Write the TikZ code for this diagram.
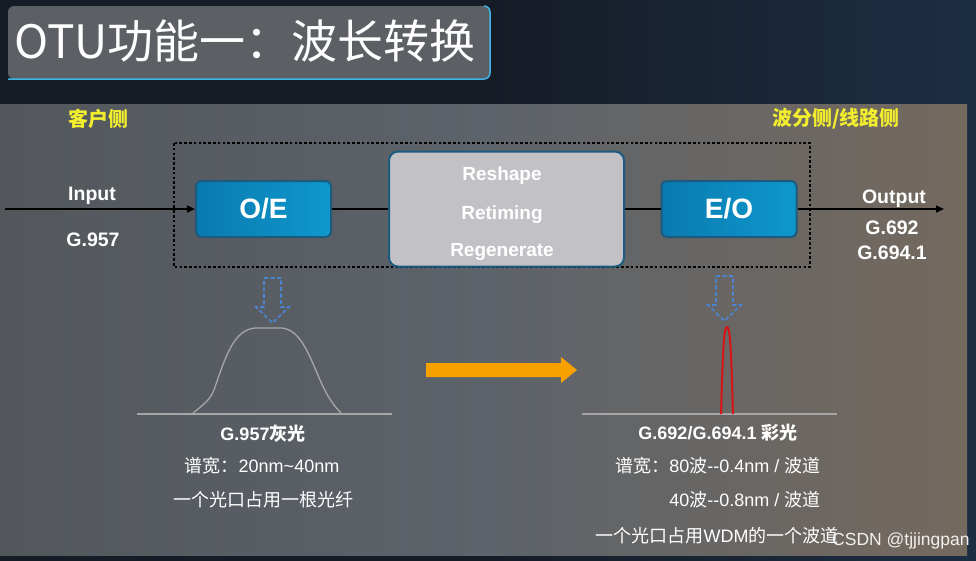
\documentclass[tikz,border=0pt]{standalone}
\usepackage{fontspec}
\setmainfont{Liberation Sans}
\newfontfamily\cjk{Noto Sans CJK SC}
\usetikzlibrary{arrows.meta}
\definecolor{bgdark}{HTML}{161C26}
\definecolor{bgblue}{HTML}{1C2E44}
\definecolor{panelL}{HTML}{53575C}
\definecolor{panelM}{HTML}{5D636A}
\definecolor{panelR}{HTML}{74695F}
\definecolor{titlefill}{HTML}{5C6065}
\definecolor{titleedge}{HTML}{3FB4E6}
\definecolor{blueA}{HTML}{0A7AB0}
\definecolor{blueB}{HTML}{0E98CC}
\definecolor{blueedge}{HTML}{1D5A80}
\definecolor{grayfill}{HTML}{C2C2C6}
\definecolor{hint}{HTML}{F2EE2E}
\definecolor{dashblue}{HTML}{4C84D4}
\definecolor{curvegray}{HTML}{A6A6A6}
\definecolor{peakred}{HTML}{D81414}
\definecolor{orangeA}{HTML}{F7A000}
\tikzset{
  bluebox/.style={draw=blueedge, line width=2pt, rounded corners=5pt,
    left color=blueA, right color=blueB, text=white,
    font=\bfseries\fontsize{28}{28}\selectfont,
    minimum width=135pt, minimum height=56pt, inner sep=0pt},
  regbox/.style={draw=blueedge, line width=2pt, rounded corners=9pt,
    fill=grayfill, minimum width=235pt, minimum height=115pt, inner sep=0pt},
  regtext/.style={text=white, font=\bfseries\fontsize{19}{19}\selectfont},
  iotext/.style={text=white, font=\bfseries\fontsize{19.5}{19.5}\selectfont},
  hinttext/.style={text=hint, font=\cjk\bfseries\fontsize{20}{20}\selectfont},
  captext/.style={text=white, font=\fontsize{18}{18}\selectfont},
  conn/.style={line width=1.5pt, draw=black},
  dasharrow/.style={draw=dashblue, line width=1.6pt, dash pattern=on 4pt off 2.5pt},
}
\begin{document}
\begin{tikzpicture}[x=1pt,y=-1pt]
\useasboundingbox (0,0) rectangle (976,560);
% background
\shade[left color=bgdark, right color=bgblue, middle color=bgdark] (0,0) rectangle (976,560);
\shade[left color=panelL, right color=panelR, middle color=panelM] (0,104) rectangle (967,555);
% title
\fill[titlefill, rounded corners=6pt] (8,6) rectangle (490,79);
\draw[titleedge, line width=1.5pt, rounded corners=6pt] (484,6) -- (490,6) -- (490,79) -- (8,79);
\node[anchor=west, text=white, font=\cjk\fontsize{46}{46}\selectfont, inner sep=0pt] (title) at (14,41) {OTU功能一：波长转换};
% side labels
\node[hinttext] (client) at (98,119) {客户侧};
\node[hinttext] (line) at (836,119) {波分侧/线路侧};
% dotted frame
\draw[black, line width=2.6pt, dash pattern=on 2.6pt off 2.2pt] (174,143) rectangle (810,267);
% boxes
\node[bluebox] (oe) at (263.5,209) {O/E};
\node[regbox] (reg) at (506.5,209) {};
\node[regtext] (t1) at (502,175.5) {Reshape};
\node[regtext] (t2) at (502,214.5) {Retiming};
\node[regtext] (t3) at (502,251.5) {Regenerate};
\node[bluebox] (eo) at (729,209) {E/O};
% connectors
\coordinate (inL) at (5,209);
\coordinate (outR) at (944,209);
\draw[conn, -{Triangle[length=8pt,width=7pt]}] (inL) -- (oe.west);
\draw[conn] (oe.east) -- (reg.west);
\draw[conn] (reg.east) -- (eo.west);
\draw[conn, -{Triangle[length=8pt,width=7pt]}] (eo.east) -- (outR);
% io labels
\node[iotext] (in1) at (92,195.5) {Input};
\node[iotext] (in2) at (93,240) {G.957};
\node[iotext] (out1) at (894,198.5) {Output};
\node[iotext] (out2) at (892,228) {G.692};
\node[iotext] (out3) at (892,253) {G.694.1};
% dashed arrows
\draw[dasharrow] (264,278) -- (281,278) -- (281,307) -- (289,307) -- (272.5,323) -- (256,307) -- (264,307) -- cycle;
\draw[dasharrow] (716,276) -- (733,276) -- (733,305) -- (741,305) -- (724.5,321) -- (708,305) -- (716,305) -- cycle;
% spectra
\draw[curvegray, line width=1.3pt] (137,414) -- (392,414);
\draw[curvegray, line width=1.3pt] (192,414) .. controls (204,404) and (210,400) .. (214,390)
   .. controls (226,355) and (234,330) .. (255,328) -- (282,328)
   .. controls (300,330) and (308,352) .. (320,380)
   .. controls (328,398) and (334,406) .. (342,414);
\draw[curvegray, line width=1.3pt] (582,414) -- (837,414);
\draw[peakred, line width=2pt] (721,414) .. controls (723,345) and (724,327) .. (727,327)
   .. controls (730,327) and (731,345) .. (733,414);
% orange arrow
\fill[orangeA] (426,363) -- (561,363) -- (561,357) -- (577,370) -- (561,383) -- (561,377) -- (426,377) -- cycle;
% captions left
\node[captext, font=\bfseries\fontsize{18}{18}\selectfont] (c1) at (263,433.5) {G.957{\cjk 灰光}};
\node[captext] (c2) at (262,466) {{\cjk 谱宽：}20nm\textasciitilde 40nm};
\node[captext] (c3) at (263,500) {\cjk 一个光口占用一根光纤};
% captions right
\node[captext, font=\bfseries\fontsize{18}{18}\selectfont] (d1) at (718,432.5) {G.692/G.694.1 {\cjk 彩光}};
\node[captext, anchor=east] (d2) at (824,466) {{\cjk 谱宽：}80{\cjk 波}-{}-0.4nm / {\cjk 波道}};
\node[captext, anchor=east] (d3) at (824,500) {40{\cjk 波}-{}-0.8nm / {\cjk 波道}};
\node[captext, anchor=west] (d4) at (592,536) {{\cjk 一个光口占用}WDM{\cjk 的一个波道}};
% watermark
\node[text=white, opacity=0.9, font=\fontsize{17.5}{17.5}\selectfont, anchor=west, inner sep=0pt] (wm) at (832,541) {CSDN @tjjingpan};
\end{tikzpicture}
\end{document}
